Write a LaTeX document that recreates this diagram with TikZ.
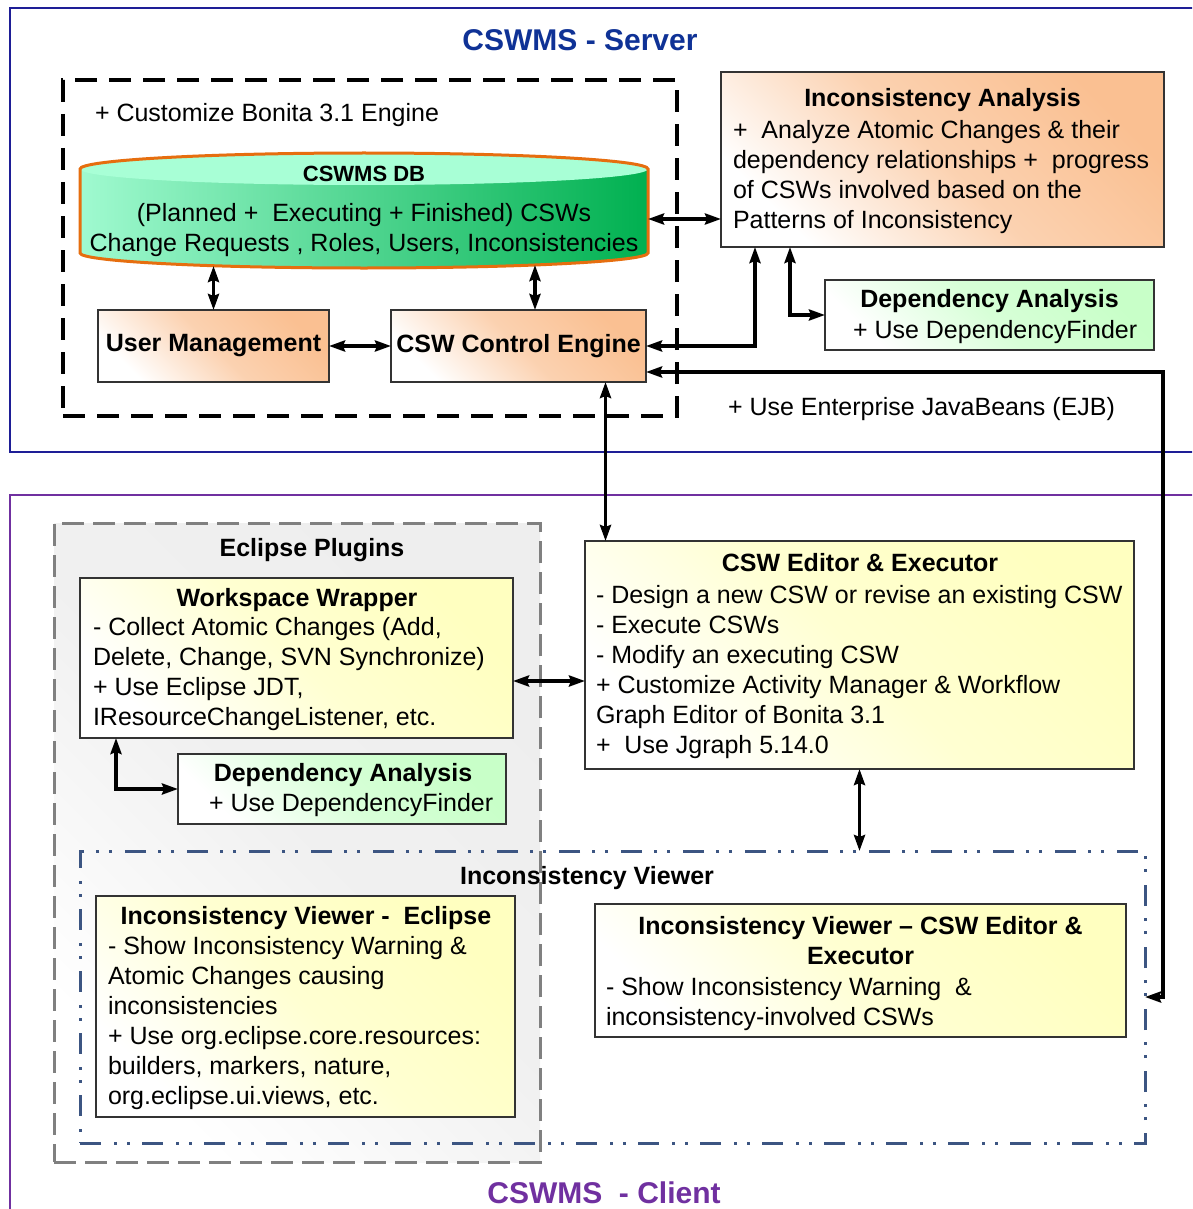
\documentclass[tikz,border=0pt]{standalone}
\usepackage{fontspec}
\setmainfont{Liberation Sans}
\usetikzlibrary{arrows.meta,calc}
\definecolor{orng}{RGB}{250,192,146}
\definecolor{yel}{RGB}{255,255,192}
\definecolor{grn}{RGB}{200,255,200}
\definecolor{srvblue}{RGB}{30,30,150}
\definecolor{ttlblue}{RGB}{15,50,150}
\definecolor{clpurple}{RGB}{112,48,160}
\definecolor{ivblue}{RGB}{60,85,130}
\definecolor{dborange}{RGB}{230,110,15}
\definecolor{mint}{RGB}{168,255,214}
\definecolor{mintb}{RGB}{160,250,208}
\definecolor{dgreen}{RGB}{0,176,80}
\definecolor{eclgray}{RGB}{238,238,238}
\begin{document}
\begin{tikzpicture}[x=1pt,y=-1pt,
  every node/.style={inner sep=0pt, outer sep=0pt},
  sbox/.style={draw=black!80, line width=1.1pt, anchor=north west, left color=white, right color=#1, middle color=#1!72!white, shading angle=135},
  dar/.style={line width=3.4pt, {Stealth[length=16pt,width=11pt,inset=2pt]}-{Stealth[length=16pt,width=11pt,inset=2pt]}},
  txt/.style={font=\fontsize{25}{30}\selectfont},
  btxt/.style={font=\bfseries\fontsize{25}{30}\selectfont},
  mtxt/.style={txt, align=left, anchor=north west},
  bigttl/.style={font=\bfseries\fontsize{30}{36}\selectfont, anchor=base},
]
\clip (0,0) rectangle (1192,1209);
\fill[white] (0,0) rectangle (1192,1209);

% ---------------- Server frame ----------------
\draw[srvblue, line width=2.4pt] (10,8) rectangle (1215,452);
\node[bigttl, text=ttlblue] (srvt) at (580,51) {CSWMS - Server};

% engine dashed box
\node[draw, line width=3.5pt, dash pattern=on 22pt off 12pt, anchor=north west, minimum width=614pt, minimum height=336pt] (eng) at (63,80) {};
\node[txt, anchor=base west] (engt) at (95,121.5) {+ Customize Bonita 3.1 Engine};

% database cylinder
\shade[left color=mintb, right color=dgreen] (80,169) -- (648,169) -- (648,253)
  .. controls (648,261.3) and (520.8,268) .. (364,268)
  .. controls (207.2,268) and (80,261.3) .. (80,253) -- cycle;
\fill[mint] (364,169) ellipse [x radius=284pt, y radius=16pt];
\draw[dborange, line width=3pt] (80,169)
  .. controls (80,160.2) and (207.2,153) .. (364,153)
  .. controls (520.8,153) and (648,160.2) .. (648,169) -- (648,253)
  .. controls (648,261.3) and (520.8,268) .. (364,268)
  .. controls (207.2,268) and (80,261.3) .. (80,253) -- cycle;
\node[font=\bfseries\fontsize{22}{26}\selectfont, anchor=base] (dbt) at (364,182) {CSWMS DB};
\node[txt, anchor=base] (dbl1) at (364,221.5) {(Planned +~ Executing + Finished) CSWs};
\node[txt, anchor=base] (dbl2) at (364,251.5) {Change Requests , Roles, Users, Inconsistencies};
\coordinate (dbA) at (213.5,266);
\coordinate (dbB) at (535,265);
\coordinate (dbC) at (648,219);

\node[sbox=orng, minimum width=231pt, minimum height=72pt, btxt] (um) at (98,310) {User Management};
\node[sbox=orng, minimum width=255pt, minimum height=72pt, btxt] (ce) at (391,310) {CSW Control Engine};

% Inconsistency analysis
\node[sbox=orng, minimum width=443pt, minimum height=175pt] (ia) at (721,72) {};
\node[btxt, anchor=base] (iat) at (942.5,107) {Inconsistency Analysis};
\node[mtxt] (iab) at (733,117.5) {\strut+~ Analyze Atomic Changes \& their\\dependency relationships +~ progress\\of CSWs involved based on the\\Patterns of Inconsistency};

% Dependency analysis (server)
\node[sbox=grn, minimum width=329pt, minimum height=70pt] (das) at (825,280) {};
\node[btxt, anchor=base] (dast) at (989.5,307.5) {Dependency Analysis};
\node[txt, anchor=base west] (dass) at (853,338.5) {+ Use DependencyFinder};

\node[txt, anchor=base west] (ejb) at (728,415.5) {+ Use Enterprise JavaBeans (EJB)};

% ---------------- Client frame ----------------
\draw[clpurple, line width=2.4pt] (10,495) rectangle (1215,1230);
\node[bigttl, text=clpurple] (clt) at (604,1203.5) {CSWMS~ - Client};

% Eclipse plugins
\node[draw=black!50, line width=3pt, dash pattern=on 22pt off 9pt, anchor=north west, left color=white, right color=eclgray, middle color=eclgray!85!white, shading angle=135, minimum width=486pt, minimum height=639pt] (ecl) at (54,523) {};
\node[btxt, anchor=base] (eclt) at (312,556.5) {Eclipse Plugins};

\node[sbox=yel, minimum width=433pt, minimum height=160pt] (ww) at (80,578) {};
\node[btxt, anchor=base] (wwt) at (297,606.5) {Workspace Wrapper};
\node[mtxt] (wwb) at (93,614.5) {\strut- Collect Atomic Changes (Add,\\Delete, Change, SVN Synchronize)\\+ Use Eclipse JDT,\\IResourceChangeListener, etc.};

\node[sbox=grn, minimum width=328pt, minimum height=70pt] (dac) at (178,754) {};
\node[btxt, anchor=base] (dact) at (343,781.5) {Dependency Analysis};
\node[txt, anchor=base west] (dacs) at (209,811.5) {+ Use DependencyFinder};

% CSW editor
\node[sbox=yel, minimum width=549pt, minimum height=228pt] (cswe) at (585,541) {};
\node[btxt, anchor=base] (cswet) at (860,571.5) {CSW Editor \& Executor};
\node[mtxt] (csweb) at (596,582.5) {\strut- Design a new CSW or revise an existing CSW\\- Execute CSWs\\- Modify an executing CSW\\+ Customize Activity Manager \& Workflow\\Graph Editor of Bonita 3.1\\+~ Use Jgraph 5.14.0};

% Inconsistency viewer frame
\node[draw=ivblue, line width=3pt, dash pattern=on 21pt off 13pt on 3pt off 10pt on 3pt off 12pt, anchor=north west, minimum width=1065pt, minimum height=292pt] (ivf) at (80,851) {};
\node[btxt, anchor=base] (ivft) at (587,884.5) {Inconsistency Viewer};

\node[sbox=yel, minimum width=419pt, minimum height=221pt] (ive) at (96,896) {};
\node[btxt, anchor=base] (ivet) at (306,924.5) {Inconsistency Viewer -~ Eclipse};
\node[mtxt] (iveb) at (108,933.5) {\strut- Show Inconsistency Warning \&\\Atomic Changes causing\\inconsistencies\\+ Use org.eclipse.core.resources:\\builders, markers, nature,\\org.eclipse.ui.views, etc.};

\node[sbox=yel, minimum width=531pt, minimum height=133pt] (ivc) at (595,904) {};
\node[btxt, align=center, anchor=north] (ivct) at (860.5,913.5) {\strut Inconsistency Viewer – CSW Editor \&\\Executor};
\node[mtxt] (ivcb) at (606,974.5) {\strut- Show Inconsistency Warning~ \&\\inconsistency-involved CSWs};

% ---------------- Connectors ----------------
\draw[dar] (dbA) -- (um.north);
\draw[dar] (dbB) -- (dbB |- ce.north);
\draw[dar] (um.east) -- (ce.west);
\draw[dar] (dbC) -- (dbC -| ia.west);
\draw[dar] (ce.east) -| ($(ia.south west)+(34,0)$);
\draw[dar] ($(ia.south west)+(69,0)$) |- (das.west);
\draw[dar] ($(ce.south east)+(0,-10)$) -- ++(517,0) |- (ivf.east);
\coordinate (cecs) at ($(ce.south west)+(214.5,0)$);
\draw[dar] (cecs) -- (cecs |- cswe.north);
\coordinate (wwc) at ($(ww.south east)+(0,-57)$);
\draw[dar] (wwc) -- (wwc -| cswe.west);
\draw[dar] ($(ww.south west)+(36,0)$) |- (dac.west);
\draw[dar] (cswe.south) -- (cswe.south |- ivf.north);
\end{tikzpicture}
\end{document}
